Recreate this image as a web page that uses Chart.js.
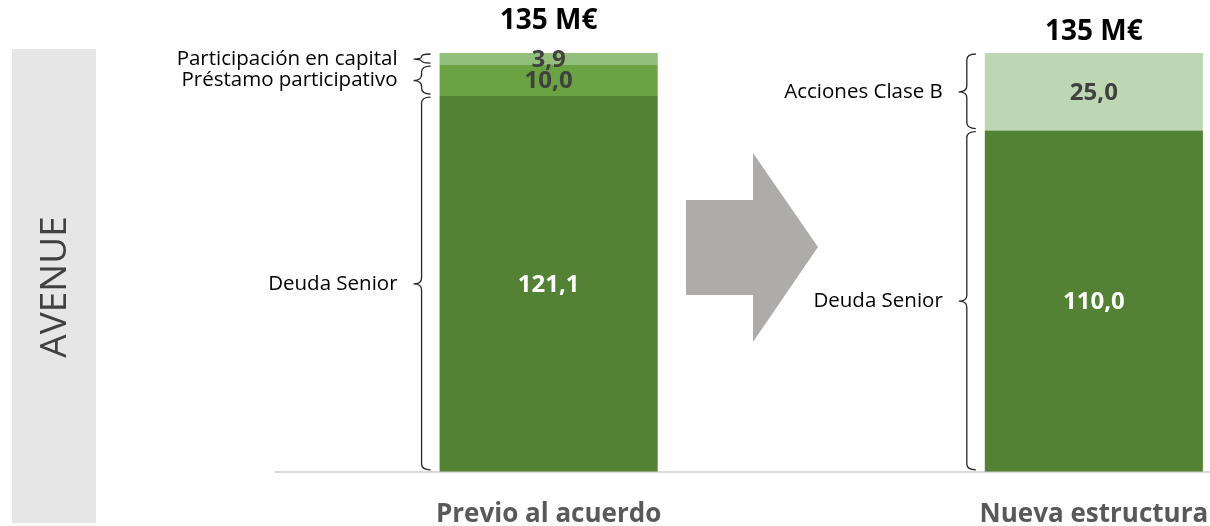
<!DOCTYPE html>
<html>
<head>
<meta charset="utf-8">
<script src="https://cdn.jsdelivr.net/npm/chart.js@4.4.0/dist/chart.umd.min.js"></script>
<style>
  html, body { margin: 0; padding: 0; background: #fff; }
  #wrap { position: relative; width: 1210px; height: 526px; }
</style>
</head>
<body>
<div id="wrap"><canvas id="chart"></canvas></div>
<script>
// data (M€)
var categories = ['Previo al acuerdo', 'Nueva estructura'];
var deudaSenior = [121.1, 110.0];
var prestamoParticipativo = [10.0, null];
var participacionCapital = [3.9, null];
var accionesClaseB = [null, 25.0];
var sideTitle = 'AVENUE';
var totalUnit = 'M€';

var FONT = "'Open Sans', sans-serif";

function pts(values) {
  return values.map(function (v, i) { return { x: i, y: v }; });
}

function fmt(v) {
  return v.toFixed(1).replace('.', ',');
}

function brace(ctx, x, top, bottom, mid) {
  var r = Math.min(6, (bottom - top) / 4);
  var hook = 9, tick = 8;
  ctx.beginPath();
  ctx.moveTo(x + hook, top);
  ctx.quadraticCurveTo(x, top, x, top + r);
  ctx.lineTo(x, mid - r);
  ctx.quadraticCurveTo(x, mid, x - tick, mid);
  ctx.quadraticCurveTo(x, mid, x, mid + r);
  ctx.lineTo(x, bottom - r);
  ctx.quadraticCurveTo(x, bottom, x + hook, bottom);
  ctx.stroke();
}

var decor = {
  id: 'decor',
  beforeDraw: function (chart) {
    var ctx = chart.ctx;
    ctx.save();
    // side band
    ctx.fillStyle = '#e7e6e6';
    ctx.fillRect(12, 49, 84, 474);
    ctx.translate(55, 287);
    ctx.rotate(-Math.PI / 2);
    ctx.fillStyle = '#404040';
    ctx.font = '37px ' + FONT;
    ctx.textAlign = 'center';
    ctx.textBaseline = 'middle';
    ctx.fillText(sideTitle, 0, 0);
    ctx.restore();

    // arrow between the bars
    ctx.save();
    ctx.fillStyle = '#aeabab';
    ctx.beginPath();
    ctx.moveTo(686, 200);
    ctx.lineTo(753, 200);
    ctx.lineTo(753, 153);
    ctx.lineTo(818, 247);
    ctx.lineTo(753, 342);
    ctx.lineTo(753, 295);
    ctx.lineTo(686, 295);
    ctx.closePath();
    ctx.fill();
    ctx.restore();
  },
  afterDatasetsDraw: function (chart) {
    var ctx = chart.ctx;
    var totalLift = [32, 21];
    ctx.save();
    ctx.textBaseline = 'middle';
    chart.data.datasets.forEach(function (ds, di) {
      var meta = chart.getDatasetMeta(di);
      meta.data.forEach(function (bar, j) {
        var v = ds.data[j].y;
        if (v === null || v === undefined) return;
        var top = bar.y, bottom = bar.base, mid = (top + bottom) / 2;
        var left = bar.x - bar.width / 2;
        // value
        ctx.fillStyle = ds.valueColor;
        ctx.font = 'bold 24px ' + FONT;
        ctx.textAlign = 'center';
        ctx.fillText(fmt(v), bar.x, mid + 1);
        // brace + name
        var bx = left - 18;
        ctx.strokeStyle = '#262626';
        ctx.lineWidth = 1.3;
        brace(ctx, bx, top + 1, bottom - 2, mid);
        ctx.fillStyle = '#000';
        ctx.font = '20.5px ' + FONT;
        ctx.textAlign = 'right';
        ctx.fillText(ds.label, bx - 24, mid);
      });
    });
    // totals
    categories.forEach(function (c, j) {
      var sum = 0, topY = Infinity, cx = 0;
      chart.data.datasets.forEach(function (ds, di) {
        var v = ds.data[j].y;
        if (v === null || v === undefined) return;
        sum += v;
        var bar = chart.getDatasetMeta(di).data[j];
        topY = Math.min(topY, bar.y);
        cx = bar.x;
      });
      ctx.fillStyle = '#000';
      ctx.font = 'bold 28px ' + FONT;
      ctx.textAlign = 'center';
      ctx.fillText(Math.round(sum) + ' ' + totalUnit, cx, topY - totalLift[j]);
    });
    ctx.restore();
  }
};

new Chart(document.getElementById('chart'), {
  type: 'bar',
  data: {
    datasets: [
      { label: 'Deuda Senior', data: pts(deudaSenior), backgroundColor: '#548235', valueColor: '#ffffff' },
      { label: 'Préstamo participativo', data: pts(prestamoParticipativo), backgroundColor: '#69a342', valueColor: '#404040' },
      { label: 'Participación en capital', data: pts(participacionCapital), backgroundColor: '#93bf7c', valueColor: '#404040' },
      { label: 'Acciones Clase B', data: pts(accionesClaseB), backgroundColor: '#bdd7b3', valueColor: '#404040' }
    ]
  },
  options: {
    responsive: true,
    maintainAspectRatio: false,
    animation: false,
    events: [],
    layout: { padding: { top: 53, left: 276, right: 0, bottom: -31 } },
    datasets: { bar: { barPercentage: 0.8, categoryPercentage: 0.5 } },
    plugins: { legend: { display: false }, tooltip: { enabled: false } },
    scales: {
      x: {
        type: 'linear',
        min: -0.5,
        max: 1.213,
        bounds: 'data',
        offset: false,
        stacked: true,
        afterBuildTicks: function (s) {
          s.ticks = categories.map(function (c, i) { return { value: i }; });
        },
        afterFit: function (s) {
          s.paddingLeft = 0;
          s.paddingRight = 0;
        },
        grid: { offset: false, drawOnChartArea: false, drawTicks: false },
        border: { display: true, color: '#d9d9d9', width: 2 },
        ticks: {
          padding: 27,
          autoSkip: false,
          maxRotation: 0,
          color: '#595959',
          font: { family: FONT, size: 26, weight: 'bold' },
          callback: function (v) { return categories[v]; }
        }
      },
      y: { display: false, stacked: true, min: 0, max: 135 }
    }
  },
  plugins: [decor]
});
</script>
</body>
</html>
